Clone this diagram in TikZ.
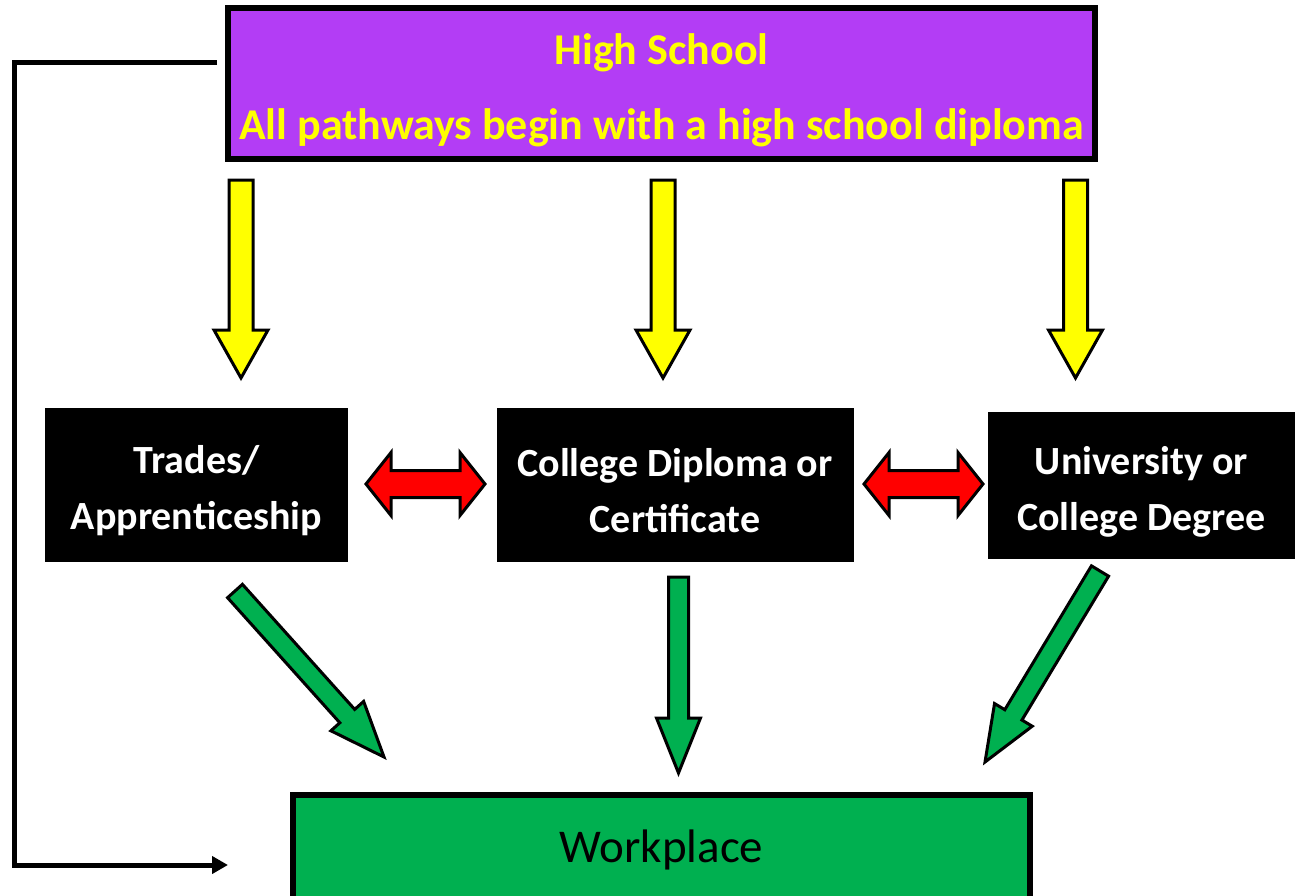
\documentclass[tikz,border=0pt]{standalone}
\usepackage{fontspec}
\setmainfont{Carlito}
\usetikzlibrary{calc,arrows.meta}
\definecolor{hspurple}{RGB}{179,61,245}
\definecolor{wpgreen}{RGB}{0,176,80}
\definecolor{hsyellow}{RGB}{255,255,0}
% block arrow: [style](start)(tip)(shaft half width:head half width:head length)
\def\fatarrow[#1](#2)(#3)(#4:#5:#6){\draw[#1] let \p1=(#2), \p2=(#3), \n1={atan2(\y2-\y1,\x2-\x1)}, \n2={veclen(\x2-\x1,\y2-\y1)} in [shift={(\p1)}, rotate=\n1] (0pt,-#4pt) -- ({\n2-#6pt},-#4pt) -- ({\n2-#6pt},-#5pt) -- ({\n2+0pt},0pt) -- ({\n2-#6pt},#5pt) -- ({\n2-#6pt},#4pt) -- (0pt,#4pt) -- cycle;}
% double block arrow, same arguments
\def\dblarrow[#1](#2)(#3)(#4:#5:#6){\draw[#1] let \p1=(#2), \p2=(#3), \n1={atan2(\y2-\y1,\x2-\x1)}, \n2={veclen(\x2-\x1,\y2-\y1)} in [shift={(\p1)}, rotate=\n1] (0pt,0pt) -- (#6pt,#5pt) -- (#6pt,#4pt) -- ({\n2-#6pt},#4pt) -- ({\n2-#6pt},#5pt) -- ({\n2+0pt},0pt) -- ({\n2-#6pt},-#5pt) -- ({\n2-#6pt},-#4pt) -- (#6pt,-#4pt) -- (#6pt,-#5pt) -- cycle;}

\begin{document}
\begin{tikzpicture}[x=1pt,y=-1pt,
	hsbox/.style={draw=black, fill=hspurple, line width=6pt, inner sep=0pt, minimum width=867pt, minimum height=151pt, text=hsyellow, align=center, font=\bfseries\fontsize{44}{75}\selectfont},
	pathbox/.style={fill=black, inner sep=0pt, minimum height=154pt, text=white, align=center, font=\bfseries\fontsize{40}{56}\selectfont},
	wpbox/.style={draw=black, fill=wpgreen, line width=6pt, inner sep=0pt, minimum width=737pt, minimum height=105pt, font=\fontsize{47}{56}\selectfont},
	yarrow/.style={draw=black, fill=hsyellow, line width=3pt},
	garrow/.style={draw=black, fill=wpgreen, line width=3pt},
	rarrow/.style={draw=black, fill=red, line width=3pt},
	loopline/.style={line width=5pt, -{Triangle[length=16pt,width=17pt]}}]
	%%%%% START %%%%%
	
	\useasboundingbox (0,0) rectangle (1306,895);
	
	\node[hsbox] (hs) at (661.5,83.5) {\rule{0pt}{44pt}High School\\All pathways begin with a high school diploma};
	
	\node[pathbox, minimum width=303pt] (trades) at (196.5,485) {\rule{0pt}{40pt}Trades/\\Apprenticeship};
	\node[pathbox, minimum width=357pt] (college) at (675,485) {\rule{0pt}{40pt}College Diploma or\\Certificate};
	\node[pathbox, minimum width=307pt, minimum height=147pt] (univ) at (1141.5,485.5) {\rule{0pt}{40pt}University or\\College Degree};
	
	\node[wpbox] (work) at (661.5,847.5) {\rule{0pt}{38pt}Workplace};
	
	% yellow arrows out of high school
	\coordinate (ya1) at (241,180);   \coordinate (yb1) at (241,378);
	\coordinate (ya2) at (663,180);   \coordinate (yb2) at (663,378);
	\coordinate (ya3) at (1075.5,180);\coordinate (yb3) at (1075.5,378);
	\fatarrow[yarrow](ya1)(yb1)(12:27:48)
	\fatarrow[yarrow](ya2)(yb2)(12:27:48)
	\fatarrow[yarrow](ya3)(yb3)(12:27:48)
	
	% red arrows between pathways
	\coordinate (ra1) at (366,484);   \coordinate (rb1) at (485,484);
	\coordinate (ra2) at (864,484);   \coordinate (rb2) at (983,484);
	\dblarrow[rarrow](ra1)(rb1)(13.5:31.5:25)
	\dblarrow[rarrow](ra2)(rb2)(13.5:31.5:25)
	
	% green arrows to the workplace
	\coordinate (ga1) at (235,591);   \coordinate (gb1) at (384,757);
	\coordinate (ga2) at (678.5,577); \coordinate (gb2) at (678.5,773);
	\coordinate (ga3) at (1100,571);  \coordinate (gb3) at (985,762);
	\fatarrow[garrow](ga1)(gb1)(10:22:55)
	\fatarrow[garrow](ga2)(gb2)(10:22:55)
	\fatarrow[garrow](ga3)(gb3)(10:22:55)
	
	% straight to work
	\coordinate (loopa) at (217,62);
	\coordinate (loopb) at (228,865);
	\draw[loopline] (loopa) -- ++(-203,0) |- (loopb);
	
	%%%%% END %%%%%
\end{tikzpicture}
\end{document}
